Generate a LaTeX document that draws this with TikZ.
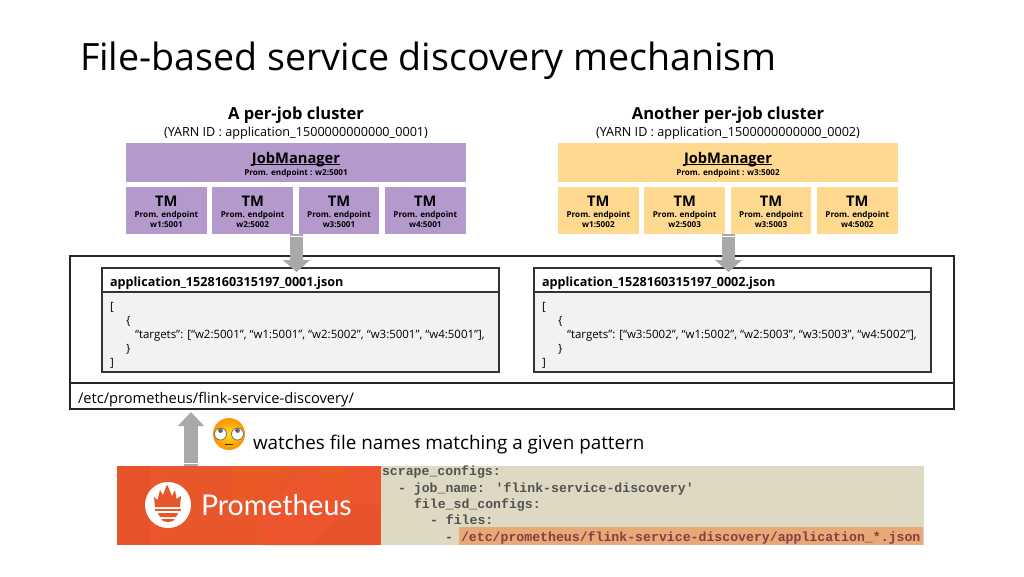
\documentclass[tikz,border=0pt]{standalone}
\usepackage{fontspec}
\usetikzlibrary{arrows.meta}
\setmainfont{Open Sans}
\newfontfamily\codefont{Liberation Mono}
\newfontfamily\logofont{Lato}
\definecolor{purp}{HTML}{B499CC}
\definecolor{gold}{HTML}{FFD98F}
\definecolor{arrowgray}{HTML}{A9A9A9}
\definecolor{promo}{HTML}{E8572A}
\definecolor{promoa}{HTML}{E6532B}
\definecolor{promob}{HTML}{EC552E}
\definecolor{promoc}{HTML}{E95A27}
\definecolor{codebg}{HTML}{DDD9C3}
\definecolor{hl}{HTML}{E8A878}
\newcommand{\fsz}[1]{\fontsize{#1}{#1}\selectfont}
\newcommand{\ulbox}[1]{\setbox0=\hbox{#1}\rlap{\rule[-1.3pt]{\wd0}{0.55pt}}\box0}
\tikzset{
 x=0.75pt,y=-0.75pt,
 box/.style={anchor=north west,inner sep=0pt,outer sep=0pt,align=center,text=black},
 jmbox/.style={box,minimum width=255pt,minimum height=29.25pt},
 tmbox/.style={box,minimum width=60.6pt,minimum height=35.25pt},
 txt/.style={inner sep=0pt,outer sep=0pt,anchor=base,text=black},
 ltxt/.style={inner sep=0pt,outer sep=0pt,anchor=base west,text=black},
 codeln/.style={ltxt,text=black!68,font=\codefont\bfseries\fsz{9.9}},
 blockarrow/.style={draw=arrowgray,line width=9.75pt,-{Triangle[length=9pt,width=20pt]}},
 stripe/.style={draw=white,line width=0.5pt},
}
\newcommand{\jmtext}[1]{\rule{0pt}{11.4pt}{\fsz{11}\bfseries\ulbox{JobManager}}\\[-3pt]{\fsz{6.1}\bfseries Prom. endpoint : #1}}
\newcommand{\tmtext}[1]{\rule{0pt}{10pt}{\fsz{11}\bfseries TM}\\[-4pt]{\fsz{6.1}\bfseries Prom. endpoint}\\[-4.5pt]{\fsz{6.1}\bfseries #1}}
\begin{document}
\begin{tikzpicture}
\useasboundingbox (0,0) rectangle (1024,576);
\fill[white] (0,0) rectangle (1024,576);
\node[ltxt,font=\fsz{28.2}] (title) at (80,70) {File-based service discovery mechanism};

% clusters
\node[txt,font=\fsz{12.4}\bfseries] (c1) at (296,119.5) {A per-job cluster};
\node[txt,font=\fsz{9.46}] (y1) at (296,136) {(YARN ID : application\_1500000000000\_0001)};
\node[txt,font=\fsz{12.4}\bfseries] (c2) at (728,119.5) {Another per-job cluster};
\node[txt,font=\fsz{9.46}] (y2) at (728,136) {(YARN ID : application\_1500000000000\_0002)};

\node[jmbox,fill=purp] (jm1) at (126,143) {\jmtext{w2:5001}};
\node[tmbox,fill=purp] (t11) at (126,187) {\tmtext{w1:5001}};
\node[tmbox,fill=purp] (t12) at (212.3,187) {\tmtext{w2:5002}};
\node[tmbox,fill=purp] (t13) at (298.6,187) {\tmtext{w3:5001}};
\node[tmbox,fill=purp] (t14) at (384.9,187) {\tmtext{w4:5001}};

\node[jmbox,fill=gold] (jm2) at (558,143) {\jmtext{w3:5002}};
\node[tmbox,fill=gold] (t21) at (558,187) {\tmtext{w1:5002}};
\node[tmbox,fill=gold] (t22) at (644.3,187) {\tmtext{w2:5003}};
\node[tmbox,fill=gold] (t23) at (730.6,187) {\tmtext{w3:5003}};
\node[tmbox,fill=gold] (t24) at (816.9,187) {\tmtext{w4:5002}};

% directory box
\node[box,draw=black!85,line width=0.9pt,minimum width=663pt,minimum height=95.25pt,fill=white] (outer) at (70,256) {};
\node[box,draw=black!85,line width=0.9pt,minimum width=663pt,minimum height=19.5pt,fill=white] (dirbar) at (70,383) {};
\node[ltxt,font=\fsz{11.0}] (dirtext) at (78,403) {/etc/prometheus/flink-service-discovery/};

% file 1
\node[box,draw=black!80,line width=1pt,minimum width=297.75pt,minimum height=18pt,fill=white] (f1) at (102,268) {};
\node[box,draw=black!80,line width=1pt,minimum width=297.75pt,minimum height=60pt,fill=black!5] (b1) at (102,292) {};
\draw[black!80,line width=1.6pt] (b1.north west) -- (b1.north east);
\node[ltxt,font=\fsz{9.46}\bfseries] (f1t) at (110,286) {application\_1528160315197\_0001.json};
\node[ltxt,font=\fsz{8.6}] (j11) at (110,310) {[};
\node[ltxt,font=\fsz{8.6}] (j12) at (126,324) {\{};
\node[ltxt,font=\fsz{8.6}] (j13) at (135,338) {“targets”: [“w2:5001”, “w1:5001”, “w2:5002”, “w3:5001”, “w4:5001”],};
\node[ltxt,font=\fsz{8.6}] (j14) at (126,352) {\}};
\node[ltxt,font=\fsz{8.6}] (j15) at (110,366) {]};

% file 2
\node[box,draw=black!80,line width=1pt,minimum width=297.75pt,minimum height=18pt,fill=white] (f2) at (534,268) {};
\node[box,draw=black!80,line width=1pt,minimum width=297.75pt,minimum height=60pt,fill=black!5] (b2) at (534,292) {};
\draw[black!80,line width=1.6pt] (b2.north west) -- (b2.north east);
\node[ltxt,font=\fsz{9.46}\bfseries] (f2t) at (542,286) {application\_1528160315197\_0002.json};
\node[ltxt,font=\fsz{8.6}] (j21) at (542,310) {[};
\node[ltxt,font=\fsz{8.6}] (j22) at (558,324) {\{};
\node[ltxt,font=\fsz{8.6}] (j23) at (567,338) {“targets”: [“w3:5002”, “w1:5002”, “w2:5003”, “w3:5003”, “w4:5002”],};
\node[ltxt,font=\fsz{8.6}] (j24) at (558,352) {\}};
\node[ltxt,font=\fsz{8.6}] (j25) at (542,366) {]};

% block arrows
\coordinate (a1s) at (296.5,234);
\coordinate (a1e) at (296.5,272);
\coordinate (a2s) at (728.5,234);
\coordinate (a2e) at (728.5,272);
\draw[blockarrow] (a1s) -- (a1e);
\draw[blockarrow] (a2s) -- (a2e);
\draw[stripe] (290,236.5) -- (303,236.5);
\draw[stripe] (722,236.5) -- (735,236.5);

% Prometheus banner
\node[box,fill=promo,minimum width=196.5pt,minimum height=59.25pt] (banner) at (117,466) {};
\begin{scope}
\clip (117,466) rectangle (379,545);
\fill[promoa] (117,466) -- (150,466) -- (150,545) -- (117,545) -- cycle;
\fill[promob] (150,466) -- (190,505) -- (150,545) -- cycle;
\fill[promoc] (232,466) -- (290,466) -- (262,495) -- (232,505) -- cycle;
\fill[promob] (312,466) -- (352,505) -- (312,545) -- (262,545) -- (262,510) -- cycle;
\fill[promoc] (312,466) -- (379,466) -- (379,505) -- (352,505) -- cycle;
\fill[promoa] (352,505) -- (379,505) -- (379,545) -- (312,545) -- cycle;
\fill[promob] (345,466) -- (379,466) -- (379,505) -- (352,505) -- cycle;
\end{scope}
\fill[white] (168,505) circle[radius=23];
\fill[promo] (155,507) -- (154,497) -- (157.5,500) -- (160,490) -- (163,495) -- (167,484.5) -- (170,491) -- (172,496) -- (175,490) -- (176.5,499) -- (181,496) -- (180,507) -- cycle;
\fill[promo] (155,508.5) rectangle (181,511);
\fill[promo] (158,513) -- (178,513) -- (176,517) -- (160,517) -- cycle;
\fill[promo] (161,519) -- (175,519) .. controls (174,523) and (162,523) .. (161,519) -- cycle;
\node[ltxt,text=white,font=\logofont\fsz{21.4}] (logo) at (201,515) {Prometheus};

% code
\node[box,fill=codebg,minimum width=408.75pt,minimum height=59.25pt] (code) at (379,466) {};
\fill[promo] (379,466) rectangle (381,545);
\fill[hl] (459,527) rectangle (923,545);
\node[codeln] (l1) at (382,475.7) {scrape\_configs:};
\node[codeln] (l2) at (398,492.2) {- job\_name: 'flink-service-discovery'};
\node[codeln] (l3) at (414,508.7) {file\_sd\_configs:};
\node[codeln] (l4) at (430,524.7) {- files:};
\node[codeln] (l5) at (445,541.2) {-};
\node[codeln,text=red!35!black!75] (l6) at (461,541.2) {/etc/prometheus/flink-service-discovery/application\_*.json};

% up arrow
\coordinate (a3s) at (191,466);
\coordinate (a3e) at (191,412);
\draw[blockarrow,line width=10.5pt,-{Triangle[length=10.5pt,width=19pt]}] (a3s) -- (a3e);
\draw[stripe] (184,463) -- (198,463);

% emoji
\shade[inner color=yellow!70!orange!90!white,outer color=orange!85!yellow] (229,434) circle[radius=16];
\fill[white,draw=black!55,line width=0.6pt] (220.5,434) circle[radius=6];
\fill[white,draw=black!55,line width=0.6pt] (237.5,434) circle[radius=6];
\fill[black!60] (220.5,430.5) circle[radius=2.4];
\fill[black!60] (237.5,430.5) circle[radius=2.4];
\draw[black!70!brown,line width=0.9pt,line cap=round] (225.5,444.5) -- (232.5,444.5);

\node[ltxt,font=\fsz{14.15}] (watch) at (253,449) {watches file names matching a given pattern};
\end{tikzpicture}
\end{document}
